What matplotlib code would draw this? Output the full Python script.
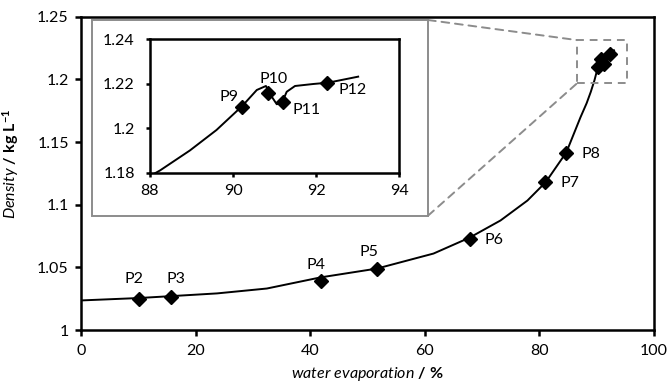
import matplotlib
matplotlib.use("Agg")
import matplotlib.pyplot as plt
from matplotlib.patches import Rectangle, ConnectionPatch

plt.rcParams['font.family'] = ['Lato', 'DejaVu Sans']
plt.rcParams['mathtext.fontset'] = 'custom'
plt.rcParams['mathtext.rm'] = 'Lato'
plt.rcParams['mathtext.it'] = 'Lato:italic'
plt.rcParams['mathtext.bf'] = 'Lato:bold'

# sample points P2..P12
labels = ['P2', 'P3', 'P4', 'P5', 'P6', 'P7', 'P8', 'P9', 'P10', 'P11', 'P12']
evap = [10, 15.6, 41.8, 51.6, 67.8, 80.9, 84.6, 90.22, 90.83, 91.2, 92.27]
density = [1.025, 1.0265, 1.0388, 1.0488, 1.0725, 1.118, 1.1415, 1.2097, 1.216, 1.212, 1.2203]

# fitted curve
curve_x = [0, 10, 15.6, 23.7, 32.4, 41.8, 51.6, 61.5, 67.8, 73.2, 77.9, 81.1, 84.7,
           87.15, 88.24, 88.96, 89.6, 90.22, 90.57, 90.79, 90.93, 91.05, 91.17,
           91.29, 91.49, 91.93, 92.29, 93.01]
curve_y = [1.0236, 1.0255, 1.027, 1.0292, 1.0331, 1.042, 1.049, 1.061, 1.0737, 1.0874,
           1.1033, 1.118, 1.1418, 1.1696, 1.181, 1.190, 1.1992, 1.210, 1.2172, 1.219,
           1.2142, 1.2108, 1.2112, 1.2164, 1.219, 1.2199, 1.2205, 1.2232]

# label offsets in pixels (main chart P2..P8, inset P9..P12)
offsets = [(-5, 20), (5, 18), (-5, 16), (-8, 17), (24, -1), (25, -1), (25, -1),
           (-13, 10), (6, 14), (24, -8), (25, -7)]

W, H = 670, 386
FS = 11.5
fig = plt.figure(figsize=(6.7, 3.86), dpi=100)

ax = fig.add_axes([81.3 / W, 1 - 330 / H, (654 - 81.3) / W, (330 - 16.7) / H])
ax.plot(curve_x, curve_y, color='black', lw=1.4, zorder=2)
ax.plot(evap, density, linestyle='none', marker='D', ms=7, color='black', zorder=3)
for i in range(7):
    ax.annotate(labels[i], (evap[i], density[i]), xytext=offsets[i],
                textcoords='offset pixels', ha='center', va='center', fontsize=FS)
ax.set_xlim(0, 100)
ax.set_ylim(1, 1.25)
ax.set_xticks([0, 20, 40, 60, 80, 100])
yt = [1, 1.05, 1.1, 1.15, 1.2, 1.25]
ax.set_yticks(yt)
ax.set_yticklabels([f'{v:g}' for v in yt])
for s in ax.spines.values():
    s.set_linewidth(1.8)
ax.tick_params(direction='out', length=4, width=1.8, labelsize=FS)
ax.tick_params(axis='x', pad=6)
ax.tick_params(axis='y', pad=5)
ax.set_xlabel(r'$\mathit{water\ evaporation}$ $\mathbf{/\ \%}$', fontsize=FS, labelpad=5)
ax.set_ylabel(r'$\mathit{Density}$ $\mathbf{/\ kg\ L^{-1}}$', fontsize=FS)
ax.yaxis.set_label_coords(-0.105, 0.53)

# zoom region and gray frame behind the inset
ax.add_patch(Rectangle((86.6, 1.197), 8.75, 0.0343, fill=False, edgecolor='#8c8c8c',
                       lw=1.4, ls=(0, (4, 3)), clip_on=False, zorder=4))
frame = Rectangle((92 / W, 1 - 215.7 / H), (428 - 92) / W, (215.7 - 20) / H,
                  transform=fig.transFigure, facecolor='white', edgecolor='#8c8c8c',
                  lw=1.4, zorder=5)
fig.patches.append(frame)
for fy, dy in [(1 - 20 / H, 1.2313), (1 - 215.7 / H, 1.197)]:
    con = ConnectionPatch(xyA=(428 / W, fy), coordsA=fig.transFigure,
                          xyB=(86.6, dy), coordsB=ax.transData,
                          color='#8c8c8c', lw=1.4, ls=(0, (4, 3)))
    fig.add_artist(con)

axi = fig.add_axes([150 / W, 1 - 172.7 / H, (399.3 - 150) / W, (172.7 - 39.3) / H])
axi.set_zorder(10)
axi.plot(curve_x, curve_y, color='black', lw=1.4, zorder=2)
axi.plot(evap[7:], density[7:], linestyle='none', marker='D', ms=7.5, color='black', zorder=3)
for i in range(7, 11):
    axi.annotate(labels[i], (evap[i], density[i]), xytext=offsets[i],
                 textcoords='offset pixels', ha='center', va='center', fontsize=FS)
axi.set_xlim(88, 94)
axi.set_ylim(1.18, 1.24)
axi.set_xticks([88, 90, 92, 94])
yi = [1.18, 1.2, 1.22, 1.24]
axi.set_yticks(yi)
axi.set_yticklabels([f'{v:g}' for v in yi])
for s in axi.spines.values():
    s.set_linewidth(1.8)
axi.tick_params(direction='out', length=3, width=1.8, labelsize=FS)
axi.tick_params(axis='x', pad=5)
axi.tick_params(axis='y', pad=8)

fig.savefig('out.png', dpi=100)
